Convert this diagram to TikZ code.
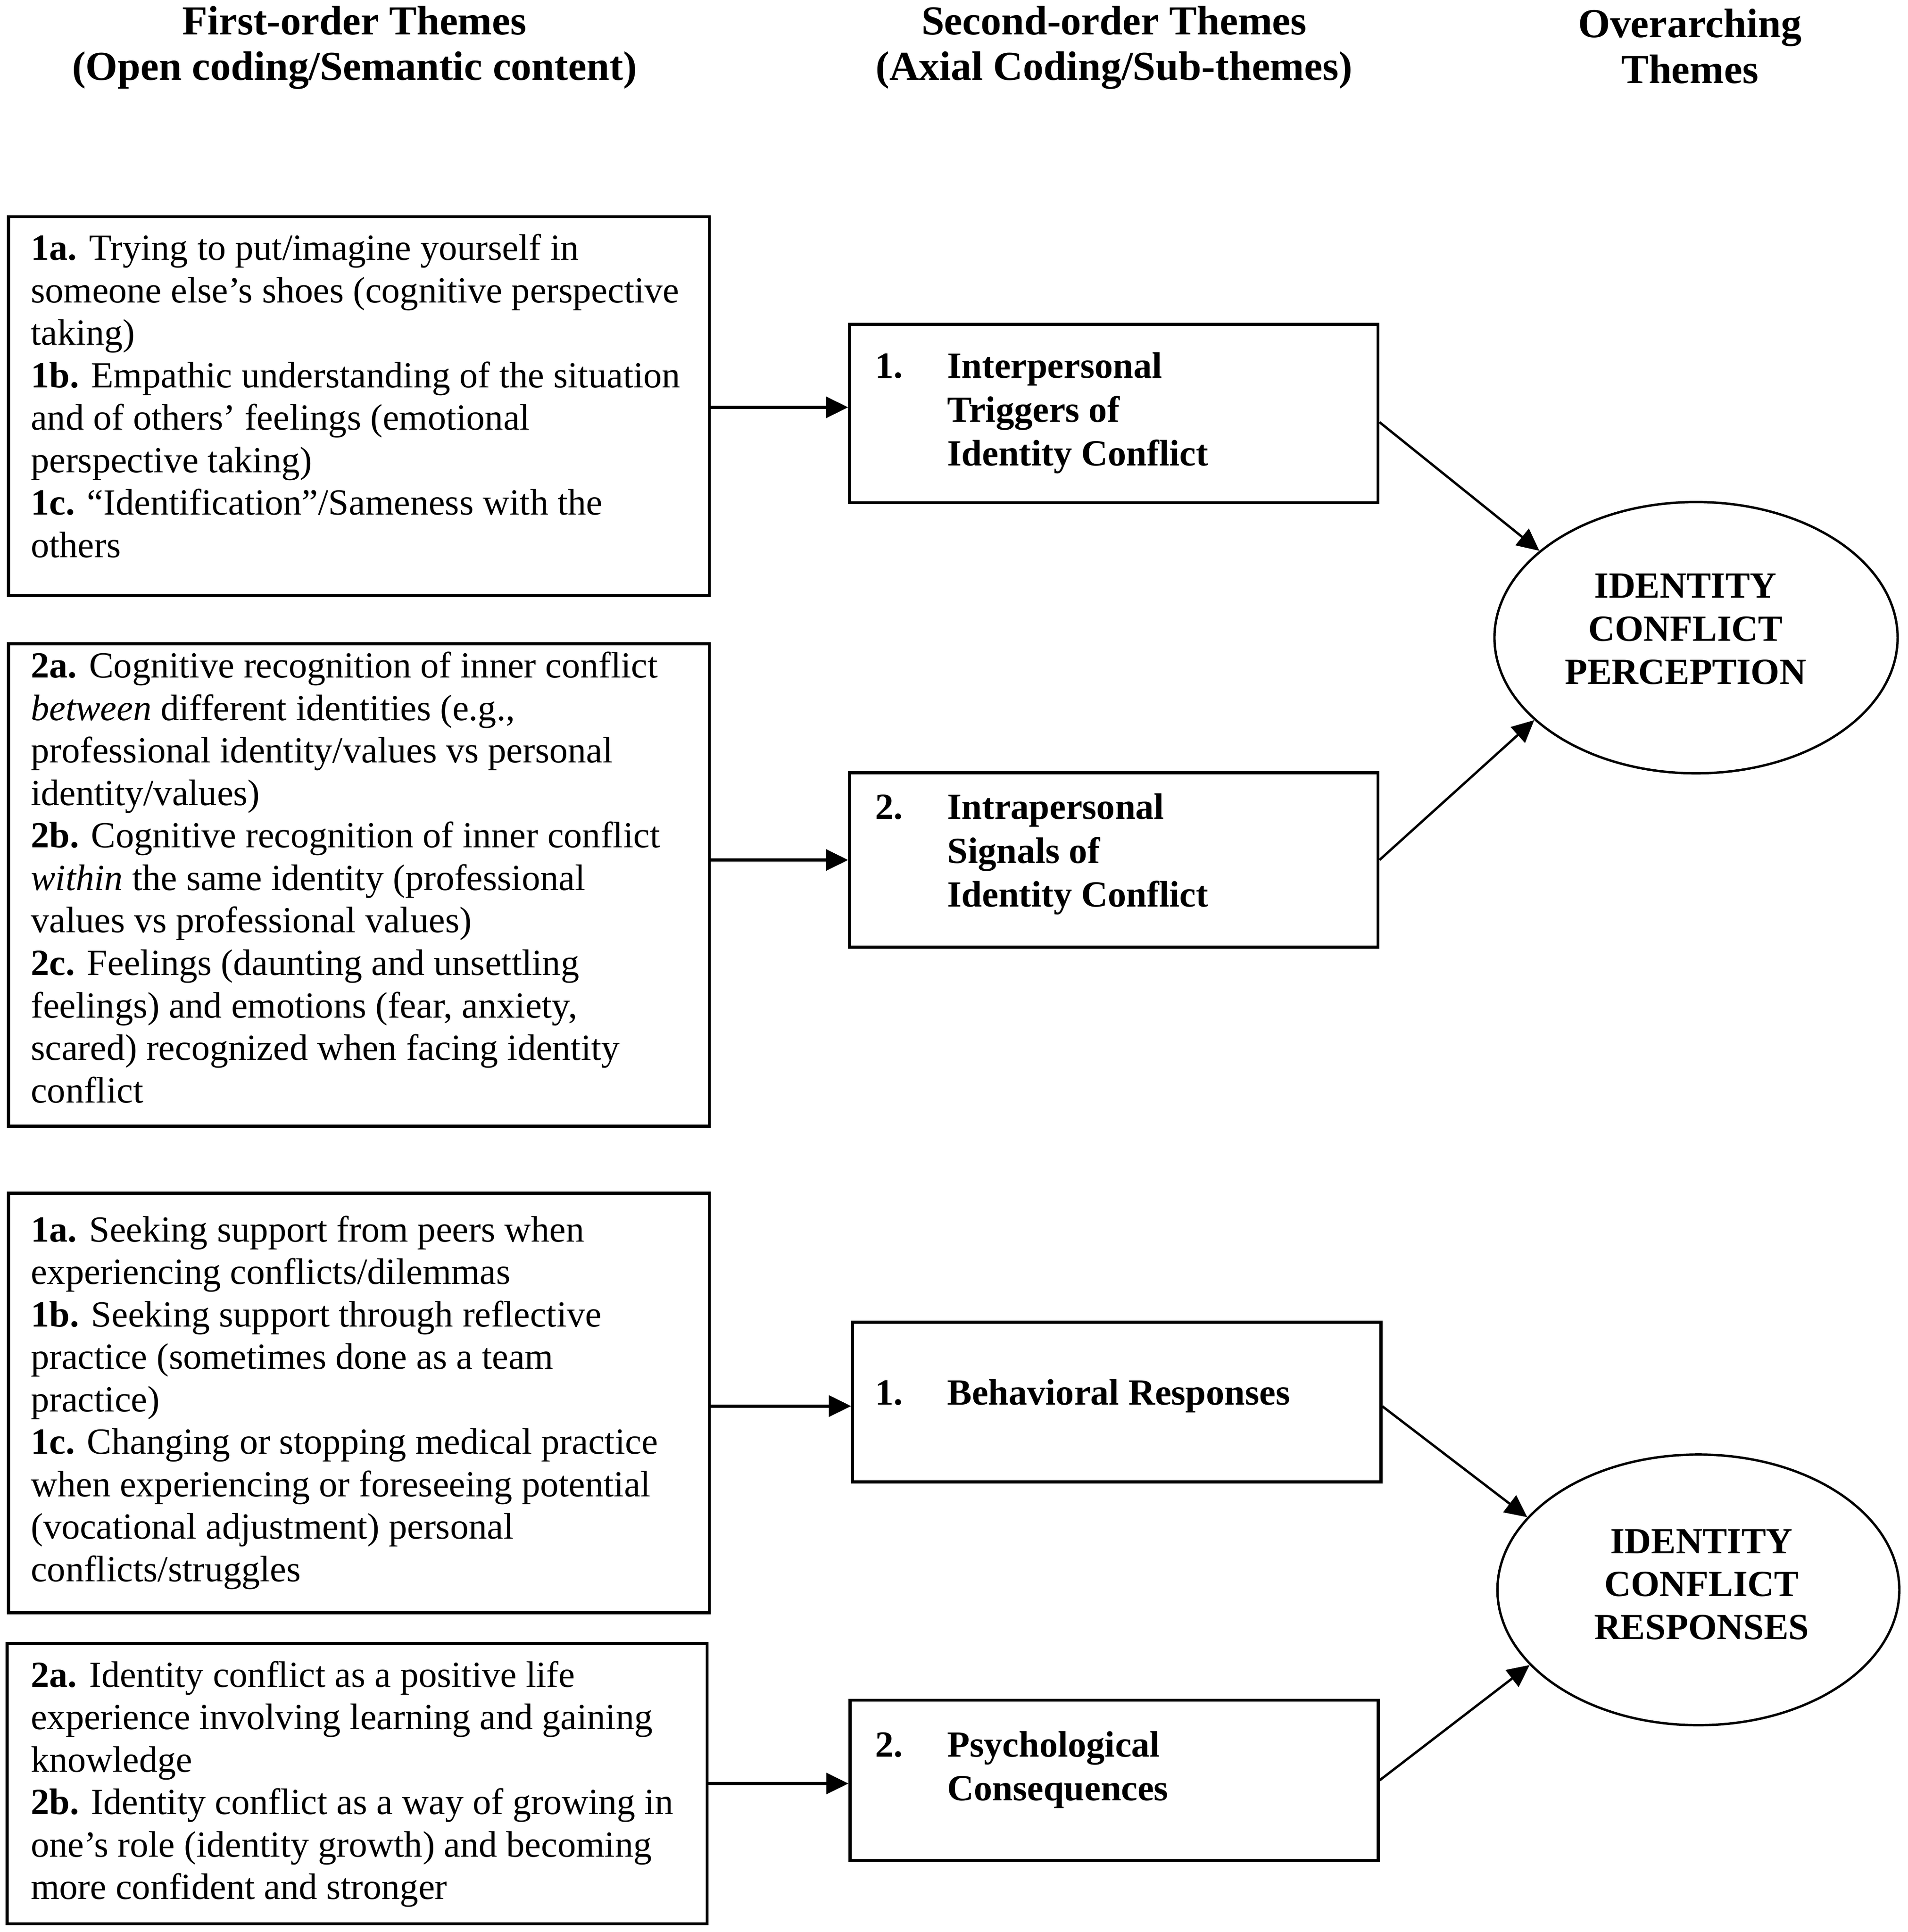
\documentclass[tikz,border=0pt]{standalone}
\usepackage{fontspec}
\setmainfont{Liberation Serif}
\usetikzlibrary{arrows.meta,shapes.geometric,calc}
\begin{document}
\begin{tikzpicture}[x=0.02cm,y=-0.02cm,
  fbox/.style={draw, line width=1.4pt, rectangle, inner sep=0pt, minimum width=11.372cm},
  ftext/.style={inner sep=0pt, anchor=west, align=left, font={\fontsize{17pt}{19.6pt}\selectfont}},
  sbox/.style={draw, line width=1.4pt, rectangle, inner sep=0pt, minimum width=8.57cm},
  stext/.style={inner sep=0pt, anchor=west, font={\fontsize{17pt}{20.2pt}\selectfont\bfseries}},
  ell/.style={draw, ellipse, line width=1.1pt, inner sep=0pt},
  etext/.style={inner sep=0pt, align=center, font={\fontsize{17pt}{19.9pt}\selectfont\bfseries}},
  head/.style={inner sep=0pt, align=center, font={\fontsize{19pt}{21pt}\selectfont\bfseries}},
  arr/.style={-{Triangle[length=0.36cm,width=0.34cm]}, line width=1.4pt},
  darr/.style={-{Triangle[length=0.36cm,width=0.34cm]}, line width=1.1pt}
]
\useasboundingbox (0,0) rectangle (1547.1,1566.4);
\fill[white] (0,0) rectangle (1547.1,1566.4);

% headers
\node[head] (h1) at (287.5,38.5) {First-order Themes\\(Open coding/Semantic content)};
\node[head] (h2) at (903.5,38.5) {Second-order Themes\\(Axial Coding/Sub-themes)};
\node[head] (h3) at (1370.5,37.5) {Overarching\\Themes};

% first-order boxes
\node[fbox, minimum height=6.148cm] (a1) at (291.1,329.3) {};
\node[fbox, minimum height=7.822cm] (a2) at (291.1,717.45) {};
\node[fbox, minimum height=6.802cm] (b1) at (291.1,1137.45) {};
\node[fbox, minimum height=4.546cm, minimum width=11.356cm] (b2) at (289.6,1446.05) {};

\node[ftext] (a1t) at (24.7,321) {\textbf{1a.} Trying to put/imagine yourself in\\
someone else’s shoes (cognitive perspective\\
taking)\\
\textbf{1b.} Empathic understanding of the situation\\
and of others’ feelings (emotional\\
perspective taking)\\
\textbf{1c.} “Identification”/Sameness with the\\
others};

\node[ftext] (a2t) at (24.7,711.4) {\textbf{2a.} Cognitive recognition of inner conflict\\
\textit{between} different identities (e.g.,\\
professional identity/values vs personal\\
identity/values)\\
\textbf{2b.} Cognitive recognition of inner conflict\\
\textit{within} the same identity (professional\\
values vs professional values)\\
\textbf{2c.} Feelings (daunting and unsettling\\
feelings) and emotions (fear, anxiety,\\
scared) recognized when facing identity\\
conflict};

\node[ftext] (b1t) at (24.7,1137.2) {\textbf{1a.} Seeking support from peers when\\
experiencing conflicts/dilemmas\\
\textbf{1b.} Seeking support through reflective\\
practice (sometimes done as a team\\
practice)\\
\textbf{1c.} Changing or stopping medical practice\\
when experiencing or foreseeing potential\\
(vocational adjustment) personal\\
conflicts/struggles};

\node[ftext] (b2t) at (24.7,1446.5) {\textbf{2a.} Identity conflict as a positive life\\
experience involving learning and gaining\\
knowledge\\
\textbf{2b.} Identity conflict as a way of growing in\\
one’s role (identity growth) and becoming\\
more confident and stronger};

% second-order boxes
\node[sbox, minimum height=2.89cm] (s1) at (903.3,335.25) {};
\node[sbox, minimum height=2.83cm] (s2) at (903.3,697.25) {};
\node[sbox, minimum height=2.592cm] (s3) at (905.7,1136.8) {};
\node[sbox, minimum height=2.598cm] (s4) at (903.5,1443.35) {};

\node[stext] (s1t) at (709.6,335) {\begin{tabular}{@{}p{1.168cm}@{}l@{}}1. & Interpersonal\\ & Triggers of\\ & Identity Conflict\end{tabular}};
\node[stext] (s2t) at (709.6,692.6) {\begin{tabular}{@{}p{1.168cm}@{}l@{}}2. & Intrapersonal\\ & Signals of\\ & Identity Conflict\end{tabular}};
\node[stext] (s3t) at (709.6,1131.8) {\begin{tabular}{@{}p{1.168cm}@{}l@{}}1. & Behavioral Responses\end{tabular}};
\node[stext] (s4t) at (709.6,1435) {\begin{tabular}{@{}p{1.168cm}@{}l@{}}2. & Psychological\\ & Consequences\end{tabular}};

% overarching ellipses
\node[ell, minimum width=6.54cm, minimum height=4.4cm] (e1) at (1375.5,517) {};
\node[etext] (e1t) at (1367,510) {IDENTITY\\CONFLICT\\PERCEPTION};
\node[ell, minimum width=6.52cm, minimum height=4.39cm] (e2) at (1377.4,1289) {};
\node[etext] (e2t) at (1380,1284.7) {IDENTITY\\CONFLICT\\RESPONSES};

% horizontal connectors
\draw[arr] ($(a1.east |- s1.west)+(0cm,0.1cm)$) -- ($(s1.west)+(0cm,0.1cm)$);
\draw[arr] (a2.east |- s2.west) -- (s2.west);
\draw[arr] ($(b1.east |- s3.west)+(0cm,-0.064cm)$) -- ($(s3.west)+(0cm,-0.064cm)$);
\draw[arr] ($(b2.east |- s4.west)+(0cm,-0.053cm)$) -- ($(s4.west)+(0cm,-0.053cm)$);

% diagonal connectors
\draw[darr] ($(s1.east)+(0cm,-0.14cm)$) -- (e1.151);
\draw[darr] (s2.east) -- (e1.207);
\draw[darr] ($(s3.east)+(0cm,-0.068cm)$) -- (e2.157);
\draw[darr] (s4.east) -- (e2.204);
\end{tikzpicture}
\end{document}
